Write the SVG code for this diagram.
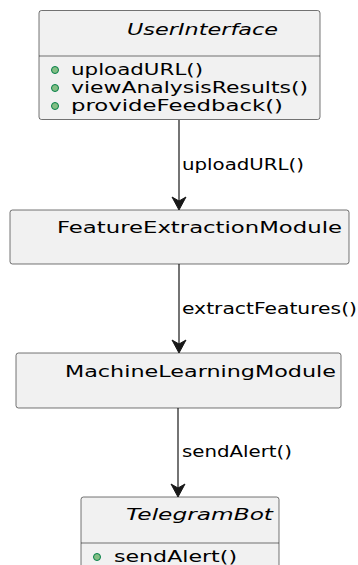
<svg xmlns="http://www.w3.org/2000/svg" width="358" height="565" viewBox="0 0 358 565">
<style>
.box{fill:#F1F1F1;stroke:#181818;stroke-width:0.6}
.div{stroke:#181818;stroke-width:0.6}
.t{font-family:"DejaVu Sans",sans-serif;fill:#000}
.title{font-size:15.5px}
.ital{font-style:italic}
.m{font-size:15.5px}
.lbl{font-size:15.5px}
.pub{fill:#84BE84;stroke:#038048;stroke-width:1}
.edge{stroke:#181818;stroke-width:1.2;fill:none}
.head{fill:#181818;stroke:#181818;stroke-width:1}
</style>
<rect width="358" height="565" fill="#FFFFFF"/>
<g id="UserInterface">
<rect class="box" x="39" y="10.5" width="281" height="109" rx="2.5"/>
<line class="div" x1="39" y1="56" x2="320" y2="56"/>
<text class="t title ital" x="127" y="35" textLength="151" lengthAdjust="spacingAndGlyphs">UserInterface</text>
<circle class="pub" cx="55" cy="70" r="3.5"/>
<text class="t m" x="71" y="75" textLength="132" lengthAdjust="spacingAndGlyphs">uploadURL()</text>
<circle class="pub" cx="55" cy="88" r="3.5"/>
<text class="t m" x="71" y="93" textLength="237" lengthAdjust="spacingAndGlyphs">viewAnalysisResults()</text>
<circle class="pub" cx="55" cy="106" r="3.5"/>
<text class="t m" x="71" y="111" textLength="212" lengthAdjust="spacingAndGlyphs">provideFeedback()</text>
</g>
<g id="FeatureExtractionModule">
<rect class="box" x="10" y="210" width="339" height="54" rx="2.5"/>
<text class="t title" x="57" y="233" textLength="285" lengthAdjust="spacingAndGlyphs">FeatureExtractionModule</text>
</g>
<g id="MachineLearningModule">
<rect class="box" x="16" y="353" width="325" height="55" rx="2.5"/>
<text class="t title" x="65" y="377" textLength="271" lengthAdjust="spacingAndGlyphs">MachineLearningModule</text>
</g>
<g id="TelegramBot">
<rect class="box" x="81" y="497" width="198" height="80" rx="2.5"/>
<line class="div" x1="81" y1="543" x2="279" y2="543"/>
<text class="t title ital" x="126" y="520" textLength="147" lengthAdjust="spacingAndGlyphs">TelegramBot</text>
<circle class="pub" cx="97" cy="557" r="3.5"/>
<text class="t m" x="114" y="562" textLength="123" lengthAdjust="spacingAndGlyphs">sendAlert()</text>
</g>
<g id="connectors">
<line class="edge" x1="179" y1="120" x2="179" y2="204"/>
<path class="head" d="M179,210 L172,197 L179,201 L186,197 Z"/>
<text class="t lbl" x="182" y="170" textLength="122" lengthAdjust="spacingAndGlyphs">uploadURL()</text>
<line class="edge" x1="179" y1="264" x2="179" y2="347"/>
<path class="head" d="M179,353 L172,340 L179,344 L186,340 Z"/>
<text class="t lbl" x="182" y="314" textLength="175" lengthAdjust="spacingAndGlyphs">extractFeatures()</text>
<line class="edge" x1="178" y1="408" x2="178" y2="491"/>
<path class="head" d="M178,497 L171,484 L178,488 L185,484 Z"/>
<text class="t lbl" x="182" y="457" textLength="110" lengthAdjust="spacingAndGlyphs">sendAlert()</text>
</g>
</svg>
